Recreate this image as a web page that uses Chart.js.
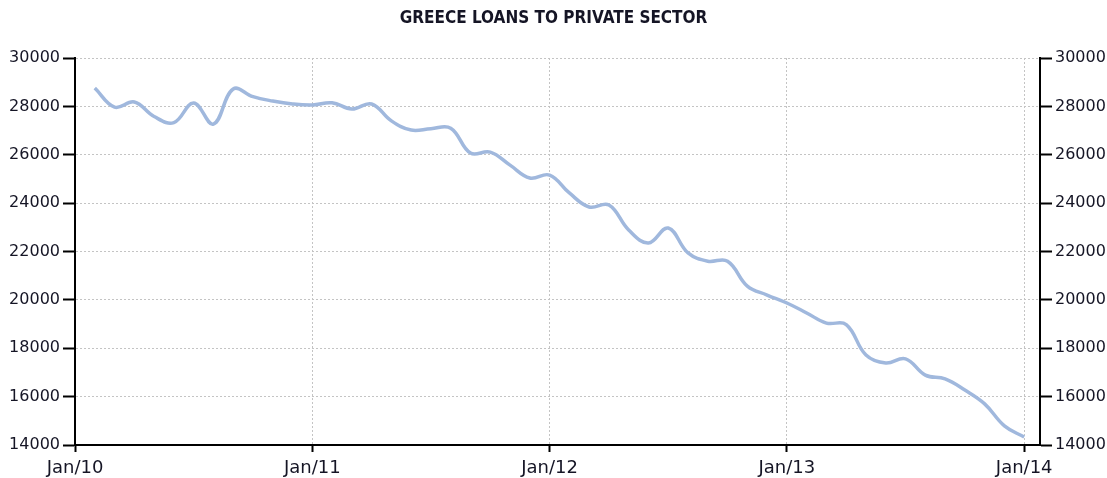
<!DOCTYPE html>
<html>
<head>
<meta charset="utf-8">
<script src="https://cdn.jsdelivr.net/npm/chart.js@4.4.1/dist/chart.umd.min.js"></script>
<style>
    html, body { margin: 0; padding: 0; background: #fff; }
    #wrap { width: 1107px; height: 478px; }
</style>
</head>
<body>
<div id="wrap"><canvas id="loansChart" width="1107" height="478"></canvas></div>
<script>
// months, Jan 2010 .. Dec 2013 (values are end of month)
const months = [
    'Jan 2010', 'Feb 2010', 'Mar 2010', 'Apr 2010', 'May 2010', 'Jun 2010', 'Jul 2010', 'Aug 2010', 'Sep 2010', 'Oct 2010', 'Nov 2010', 'Dec 2010',
    'Jan 2011', 'Feb 2011', 'Mar 2011', 'Apr 2011', 'May 2011', 'Jun 2011', 'Jul 2011', 'Aug 2011', 'Sep 2011', 'Oct 2011', 'Nov 2011', 'Dec 2011',
    'Jan 2012', 'Feb 2012', 'Mar 2012', 'Apr 2012', 'May 2012', 'Jun 2012', 'Jul 2012', 'Aug 2012', 'Sep 2012', 'Oct 2012', 'Nov 2012', 'Dec 2012',
    'Jan 2013', 'Feb 2013', 'Mar 2013', 'Apr 2013', 'May 2013', 'Jun 2013', 'Jul 2013', 'Aug 2013', 'Sep 2013', 'Oct 2013', 'Nov 2013', 'Dec 2013'
];

const loans = [
    28760, 27970, 28180, 27580, 27330, 28140, 27270, 28720, 28400, 28220, 28100, 28060,
    28150, 27890, 28100, 27400, 27020, 27080, 27100, 26070, 26110, 25570, 25040, 25160,
    24420, 23840, 23920, 22890, 22350, 22970, 21940, 21600, 21600, 20570, 20200, 19870,
    19460, 19040, 18980, 17720, 17390, 17560, 16890, 16730, 16270, 15700, 14790, 14330
];

// x ticks sit on month 0, 12, 24, 36, 48 (first of January)
const xTickLabels = ['Jan/10', 'Jan/11', 'Jan/12', 'Jan/13', 'Jan/14'];
const yMin = 14000, yMax = 30000, yStep = 2000;

const TEXT = '#151525';
const GRID = '#c4c4c4';

const points = loans.map((v, i) => ({ x: i + 1, y: v }));

const yAxis = (position, width) => ({
    type: 'linear',
    position,
    min: yMin,
    max: yMax,
    ticks: {
        stepSize: yStep, padding: 3, color: TEXT,
        font: { family: 'DejaVu Sans', size: 16 },
        callback: v => String(v)
    },
    grid: {
        color: GRID, lineWidth: 1, drawOnChartArea: position === 'left',
        tickLength: 12, tickColor: '#000', tickWidth: 2, tickBorderDash: []
    },
    border: { color: '#000', width: 2, dash: [2, 2] },
    afterFit: s => { s.width = width; }
});

new Chart(document.getElementById('loansChart'), {
    type: 'line',
    data: {
        labels: months,
        datasets: [{
            label: 'Loans to private sector',
            data: points,
            borderColor: '#a0b8dd',
            borderWidth: 3.5,
            pointRadius: 0,
            tension: 0.4,
            fill: false
        }]
    },
    options: {
        responsive: false,
        animation: false,
        layout: { padding: 0 },
        plugins: {
            legend: { display: false },
            tooltip: { enabled: false },
            title: {
                display: true,
                text: 'GREECE LOANS TO PRIVATE SECTOR',
                color: TEXT,
                font: { family: "'DejaVu Sans Condensed', 'DejaVu Sans'", size: 17, weight: 'bold', lineHeight: 1.2 },
                padding: { top: 8, bottom: 29.6 }
            }
        },
        scales: {
            x: {
                type: 'linear',
                min: 0,
                max: 48.8,
                afterBuildTicks: s => { s.ticks = xTickLabels.map((_, i) => ({ value: i * 12 })); },
                ticks: {
                    padding: 6,
                    maxRotation: 0,
                    autoSkip: false,
                    color: TEXT,
                    font: { family: 'DejaVu Sans', size: 18 },
                    callback: v => xTickLabels[v / 12]
                },
                grid: { color: GRID, lineWidth: 1, tickLength: 7, tickColor: '#000', tickWidth: 2, tickBorderDash: [] },
                border: { color: '#000', width: 2, dash: [2, 2] },
                afterFit: s => { s.height = 33; }
            },
            y: yAxis('left', 75),
            y2: yAxis('right', 67)
        }
    }
});
</script>
</body>
</html>
